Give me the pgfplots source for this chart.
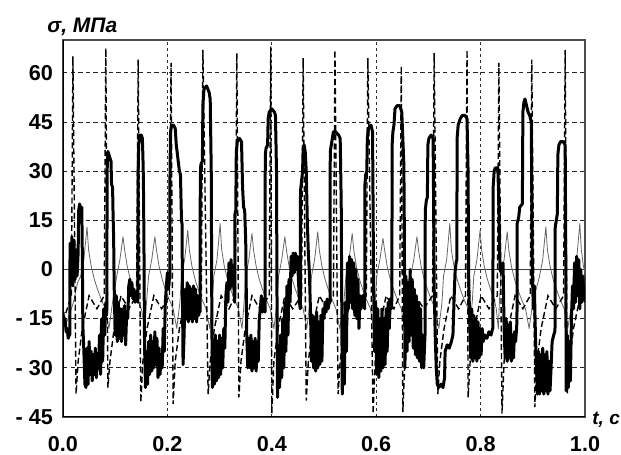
\documentclass[border=0pt]{standalone}
\usepackage{fontspec}
\setmainfont{Liberation Sans}
\usepackage{pgfplots}
\pgfplotsset{compat=1.18}
\begin{document}
\begin{tikzpicture}
\path[use as bounding box] (-31.5pt,-19pt) rectangle (279pt,208.5pt);
\begin{axis}[
  width=261pt, height=188.5pt, scale only axis,
  xmin=0, xmax=1, ymin=-45, ymax=70,
  xtick={0,0.2,0.4,0.6,0.8,1},
  xticklabels={0.0,0.2,0.4,0.6,0.8,1.0},
  ytick={-45,-30,-15,0,15,30,45,60},
  yticklabels={- 45,- 30,- 15,0,15,30,45,60},
  major tick length=0pt,
  tick label style={font=\bfseries\fontsize{10.8}{12}\selectfont},
  xticklabel style={yshift=-6pt},
  yticklabel style={xshift=-1.5pt},
  xmajorgrids, ymajorgrids,
  major x grid style={black!80, line width=0.4pt, dash pattern=on 1.5pt off 1.5pt},
  major y grid style={black!85, line width=0.45pt, dash pattern=on 2.2pt off 1.6pt},
  axis line style={draw=black!70, line width=0.6pt},
  clip=true,
]
\draw[black!75, line width=0.6pt] (axis cs:0,0) -- (axis cs:1,0);
% thin series
\addplot[black!60, line width=0.4pt, line join=round] coordinates {
(0,-18) (0.010,-15) (0.020,-10) (0.028,-4)
(0.034,-2) (0.040,3) (0.046,13) (0.049,6) (0.054,1) (0.060,-3) (0.066,-6) (0.073,-9) (0.081,-12) (0.088,-18) (0.095,-10)
(0.103,-2) (0.109,3) (0.115,10) (0.118,6) (0.123,1) (0.129,-3) (0.135,-6) (0.142,-9) (0.150,-12) (0.157,-18) (0.160,-10)
(0.164,-2) (0.170,3) (0.176,10) (0.179,6) (0.184,1) (0.190,-3) (0.196,-6) (0.203,-9) (0.211,-12) (0.218,-18) (0.224,-10)
(0.227,-2) (0.233,3) (0.239,12) (0.242,6) (0.247,1) (0.253,-3) (0.259,-6) (0.266,-9) (0.274,-12) (0.281,-18) (0.286,-10)
(0.289,-2) (0.295,3) (0.301,14) (0.304,6) (0.309,1) (0.315,-3) (0.321,-6) (0.328,-9) (0.336,-12) (0.343,-18) (0.347,-10)
(0.350,-2) (0.356,3) (0.362,11) (0.365,6) (0.370,1) (0.376,-3) (0.382,-6) (0.389,-9) (0.397,-12) (0.404,-18) (0.410,-10)
(0.413,-2) (0.419,3) (0.425,10) (0.428,6) (0.433,1) (0.439,-3) (0.445,-6) (0.452,-9) (0.460,-12) (0.467,-18) (0.473,-10)
(0.476,-2) (0.482,3) (0.488,11.5) (0.491,6) (0.496,1) (0.502,-3) (0.508,-6) (0.515,-9) (0.523,-12) (0.530,-18) (0.538,-10)
(0.542,-2) (0.548,3) (0.554,11) (0.557,6) (0.562,1) (0.568,-3) (0.574,-6) (0.581,-9) (0.589,-12) (0.595,-18) (0.598,-10)
(0.601,-2) (0.607,3) (0.613,9.5) (0.616,6) (0.621,1) (0.627,-3) (0.633,-6) (0.640,-9) (0.648,-12) (0.655,-18) (0.663,-10)
(0.666,-2) (0.672,3) (0.678,10) (0.681,6) (0.686,1) (0.692,-3) (0.698,-6) (0.705,-9) (0.713,-12) (0.720,-18) (0.726,-10)
(0.729,-2) (0.735,3) (0.741,14) (0.744,6) (0.749,1) (0.755,-3) (0.761,-6) (0.768,-9) (0.776,-12) (0.778,-18) (0.784,-10)
(0.787,-2) (0.793,3) (0.799,12) (0.802,6) (0.807,1) (0.813,-3) (0.819,-6) (0.826,-9) (0.830,-12) (0.834,-18) (0.836,-10)
(0.839,-2) (0.845,3) (0.851,11.5) (0.854,6) (0.859,1) (0.865,-3) (0.871,-6) (0.878,-9) (0.886,-12) (0.893,-18) (0.900,-10)
(0.913,-2) (0.919,3) (0.925,13) (0.928,6) (0.933,1) (0.939,-3) (0.945,-6) (0.952,-9) (0.960,-12) (0.967,-18) (0.975,-10)
(0.978,-2) (0.984,3) (0.990,14) (0.993,6) (0.997,1) (1.0,-1)
};
% thick series
\addplot[black, line width=1.5pt, line join=round] coordinates {
(0,-13) (0.002,-17) (0.004,-15) (0.006,-19) (0.008,-18) (0.010,-21) (0.012,-20) (0.013,-20)
(0.0135,8) (0.015,-4) (0.017,10) (0.019,-5) (0.021,9) (0.023,-3) (0.025,6) (0.027,-2) (0.029,5)
(0.030,18) (0.032,20) (0.034,17) (0.036,19) (0.037,5) (0.038,-17)
(0.040,-25) (0.042,-35) (0.044,-36) (0.046,-24) (0.048,-35) (0.050,-22) (0.052,-32) (0.054,-25) (0.056,-34) (0.058,-26) (0.060,-32) (0.062,-24) (0.064,-33) (0.066,-27) (0.068,-30) (0.070,-20) (0.072,-32) (0.074,-15) (0.076,-28) (0.078,-12) (0.080,-20) (0.082,-10) (0.083,-14)
(0.084,-12) (0.0845,30) (0.086,36) (0.088,35) (0.090,34) (0.092,33) (0.093,26) (0.095,25) (0.096,16) (0.097,10) (0.098,-5)
(0.100,-20) (0.102,-8) (0.104,-22) (0.106,-10) (0.108,-21) (0.110,-12) (0.112,-22) (0.114,-12) (0.116,-20) (0.118,-11) (0.120,-23) (0.122,-13) (0.124,-15) (0.126,-5) (0.128,-3) (0.130,-8) (0.132,-4) (0.134,-9) (0.136,-6) (0.138,-10) (0.140,-7) (0.142,-9)
(0.1435,-10) (0.144,30) (0.145,38) (0.147,41) (0.150,41) (0.152,40) (0.153,35) (0.154,28) (0.155,10) (0.156,-20) (0.158,-36) (0.160,-25) (0.162,-35) (0.164,-22) (0.166,-32) (0.168,-20) (0.170,-31) (0.172,-22) (0.174,-30) (0.176,-19) (0.178,-29) (0.180,-21) (0.182,-33) (0.184,-24) (0.186,-32) (0.188,-26) (0.190,-30) (0.192,-18) (0.194,-25) (0.196,-10) (0.198,-5) (0.200,-1) (0.202,-6) (0.204,-2)
(0.2045,-3) (0.205,30) (0.206,42) (0.208,44) (0.212,44) (0.215,43) (0.217,38) (0.220,34) (0.223,30) (0.225,29) (0.227,15) (0.228,14) (0.229,-10) (0.230,-29) (0.232,-20) (0.234,-6) (0.236,-15) (0.238,-4) (0.240,-16) (0.242,-5) (0.244,-15) (0.246,-6) (0.248,-16) (0.250,-5) (0.252,-15) (0.254,-6) (0.256,-16) (0.258,-8) (0.260,-14) (0.262,-12)
(0.2625,-13) (0.263,28) (0.264,32) (0.267,33) (0.268,50) (0.270,55) (0.275,56) (0.280,54) (0.282,52) (0.284,30) (0.285,-10) (0.286,-36) (0.288,-22) (0.290,-35) (0.292,-20) (0.294,-34) (0.296,-22) (0.298,-33) (0.300,-20) (0.302,-32) (0.304,-21) (0.306,-30) (0.308,-18) (0.310,-24) (0.312,-8) (0.314,-4) (0.316,-10) (0.318,2) (0.320,-6) (0.322,3) (0.324,-5) (0.326,1) (0.328,-8)
(0.329,-10) (0.3295,17) (0.331,18) (0.332,36) (0.334,39) (0.338,40) (0.342,39) (0.344,25) (0.346,19) (0.348,18) (0.350,9) (0.351,-5) (0.352,-20) (0.354,-30) (0.356,-21) (0.358,-30) (0.360,-20) (0.362,-31) (0.364,-22) (0.366,-30) (0.368,-21) (0.370,-31) (0.372,-22) (0.374,-28) (0.376,-15) (0.378,-12) (0.380,-8) (0.382,-13) (0.384,-9) (0.386,-12)
(0.3870,-13) (0.3875,35) (0.389,37) (0.392,38) (0.393,46) (0.395,48) (0.400,49) (0.405,48) (0.407,47) (0.409,30) (0.410,-10) (0.411,-39) (0.413,-25) (0.415,-36) (0.417,-20) (0.419,-33) (0.421,-15) (0.423,-30) (0.425,-10) (0.427,-25) (0.429,-5) (0.431,-20) (0.433,-3) (0.435,-10) (0.437,4) (0.439,-2) (0.441,5) (0.443,-1) (0.445,5) (0.447,0) (0.449,4) (0.451,-3) (0.453,-10)
(0.4545,-12) (0.455,24) (0.457,27) (0.459,30) (0.460,37) (0.462,38) (0.464,36) (0.466,30) (0.468,15) (0.470,5) (0.472,-1) (0.474,-12) (0.476,-28) (0.478,-14) (0.480,-30) (0.482,-15) (0.484,-31) (0.486,-13) (0.488,-30) (0.490,-16) (0.492,-29) (0.494,-14) (0.496,-28) (0.498,-12) (0.500,-15) (0.502,-10) (0.504,-13) (0.506,-9) (0.508,-12) (0.510,-10)
(0.5115,-10) (0.512,36) (0.514,38) (0.516,40) (0.518,42) (0.522,42) (0.528,41) (0.531,40) (0.533,20) (0.534,-10) (0.535,-38) (0.537,-20) (0.539,-35) (0.541,-10) (0.543,-25) (0.545,2) (0.547,-12) (0.549,4) (0.551,-10) (0.553,3) (0.555,-12) (0.557,2) (0.559,-14) (0.561,0) (0.563,-15) (0.565,-3) (0.567,-18) (0.569,-8) (0.571,-12) (0.574,-8) (0.577,-10)
(0.578,-12) (0.5785,26) (0.580,29) (0.582,30) (0.583,40) (0.585,43) (0.590,44) (0.593,42) (0.594,20) (0.595,-5) (0.597,-25) (0.599,-10) (0.601,-32) (0.603,-12) (0.605,-33) (0.607,-15) (0.609,-31) (0.611,-12) (0.613,-30) (0.615,-15) (0.617,-29) (0.619,-12) (0.621,-25) (0.623,-10) (0.625,-18) (0.627,-9) (0.629,-12)
(0.630,-9) (0.6305,38) (0.632,42) (0.634,44) (0.636,49) (0.640,50) (0.645,50) (0.649,48) (0.651,40) (0.653,32) (0.654,10) (0.655,-30) (0.657,-2) (0.659,-25) (0.661,-4) (0.663,-22) (0.665,0) (0.667,-20) (0.669,-3) (0.671,-24) (0.673,-6) (0.675,-26) (0.677,-8) (0.679,-27) (0.681,-10) (0.683,-28) (0.685,-12) (0.687,-30) (0.689,-20) (0.691,-30)
(0.6935,-20) (0.694,18) (0.696,21) (0.698,22) (0.699,38) (0.701,40) (0.705,41) (0.709,40) (0.710,20) (0.711,-5) (0.713,-20) (0.715,-30) (0.717,-35) (0.720,-36) (0.724,-35) (0.728,-36) (0.731,-33) (0.732,-25) (0.736,-23) (0.740,-24) (0.744,-22) (0.747,-20) (0.749,-10) (0.751,-1) (0.753,2)
(0.7545,3) (0.755,40) (0.757,44) (0.759,45) (0.761,46) (0.765,47) (0.770,47) (0.774,46) (0.776,30) (0.777,-1) (0.779,-15) (0.781,-27) (0.783,-12) (0.785,-28) (0.787,-14) (0.789,-27) (0.791,-15) (0.793,-28) (0.795,-16) (0.797,-27) (0.799,-18) (0.801,-26) (0.803,-18) (0.805,-22) (0.808,-20) (0.812,-21) (0.816,-19) (0.820,-20) (0.823,-18)
(0.8235,-18) (0.824,25) (0.826,30) (0.828,31) (0.833,31) (0.835,20) (0.837,0) (0.840,-1) (0.843,2) (0.845,-18) (0.847,-27) (0.849,-15) (0.851,-28) (0.853,-17) (0.855,-27) (0.857,-16) (0.859,-28) (0.861,-20) (0.863,-27) (0.865,-19) (0.867,-22) (0.869,-18)
(0.8697,-15) (0.870,14) (0.873,16) (0.875,19) (0.880,20) (0.881,48) (0.883,51) (0.885,52) (0.888,50) (0.891,48) (0.894,47) (0.897,45) (0.898,25) (0.899,0) (0.901,-12) (0.903,-5) (0.905,-20) (0.907,-30) (0.909,-38) (0.911,-25) (0.913,-38) (0.915,-26) (0.917,-37) (0.919,-24) (0.921,-38) (0.923,-26) (0.925,-37) (0.927,-25) (0.929,-38) (0.931,-28) (0.933,-37) (0.935,-30) (0.937,-22) (0.940,-20) (0.942,-19)
(0.9425,-19) (0.943,13) (0.945,15) (0.947,17) (0.948,35) (0.950,38) (0.953,39) (0.958,39) (0.962,38) (0.963,10) (0.964,-37) (0.966,-20) (0.968,-36) (0.970,-22) (0.972,-34) (0.974,-15) (0.976,-5) (0.978,-12) (0.980,2) (0.982,-10) (0.984,4) (0.986,-8) (0.988,3) (0.990,-12) (0.992,0) (0.994,-10) (0.996,-2) (0.998,-9) (1.0,-6)
};
% dashed series
\addplot[black, line width=0.7pt, dash pattern=on 3pt off 1.6pt] coordinates {
(0,-16) (0.008,-12) (0.016,-8)
(0.019,65) (0.025,-38) (0.029,-28) (0.037,-18) (0.050,-8) (0.065,-12) (0.079,-8)
(0.082,67.5) (0.086,-36) (0.090,-28) (0.098,-18) (0.111,-8) (0.126,-12) (0.141,-8)
(0.144,64) (0.149,-40.5) (0.153,-28) (0.161,-18) (0.174,-8) (0.189,-12) (0.204,-8)
(0.207,63) (0.211,-41) (0.215,-28) (0.223,-18) (0.236,-8) (0.251,-12) (0.265,-8)
(0.268,67) (0.278,-38) (0.282,-28) (0.290,-18) (0.303,-8) (0.318,-12) (0.330,-8)
(0.333,66) (0.337,-39) (0.341,-28) (0.349,-18) (0.362,-8) (0.377,-12) (0.395,-8)
(0.398,68) (0.400,-44) (0.404,-28) (0.412,-18) (0.425,-8) (0.440,-12) (0.457,-8)
(0.460,64.5) (0.466,-40) (0.470,-28) (0.478,-18) (0.491,-8) (0.506,-12) (0.518,-8)
(0.521,67) (0.527,-38) (0.531,-28) (0.539,-18) (0.552,-8) (0.567,-12) (0.581,-8)
(0.584,64.5) (0.594,-44) (0.598,-28) (0.606,-18) (0.619,-8) (0.634,-12) (0.645,-8)
(0.648,62) (0.651,-43.5) (0.655,-28) (0.663,-18) (0.676,-8) (0.691,-12) (0.708,-8)
(0.711,66) (0.718,-38) (0.722,-28) (0.730,-18) (0.743,-8) (0.758,-12) (0.771,-8)
(0.774,67) (0.776,-39) (0.780,-28) (0.788,-18) (0.801,-8) (0.816,-12) (0.832,-8)
(0.835,63) (0.841,-44) (0.845,-28) (0.853,-18) (0.866,-8) (0.881,-12) (0.895,-8)
(0.898,64) (0.904,-42) (0.908,-28) (0.916,-18) (0.929,-8) (0.944,-12) (0.959,-8)
(0.962,67) (0.966,-38) (0.970,-28) (0.978,-18) (0.991,-8) (1.0,-10)
};
\draw[black, line width=1pt] (rel axis cs:0,1) -- (rel axis cs:0,0) -- (rel axis cs:1,0);
\end{axis}
\node[anchor=base west, inner sep=0pt, font=\bfseries\itshape\fontsize{10.5}{12}\selectfont] at (-8pt,192pt) {σ, МПа};
\node[anchor=base west, inner sep=0pt, font=\bfseries\itshape\fontsize{9.5}{11}\selectfont] at (264.5pt,-4pt) {t, с};
\end{tikzpicture}
\end{document}
